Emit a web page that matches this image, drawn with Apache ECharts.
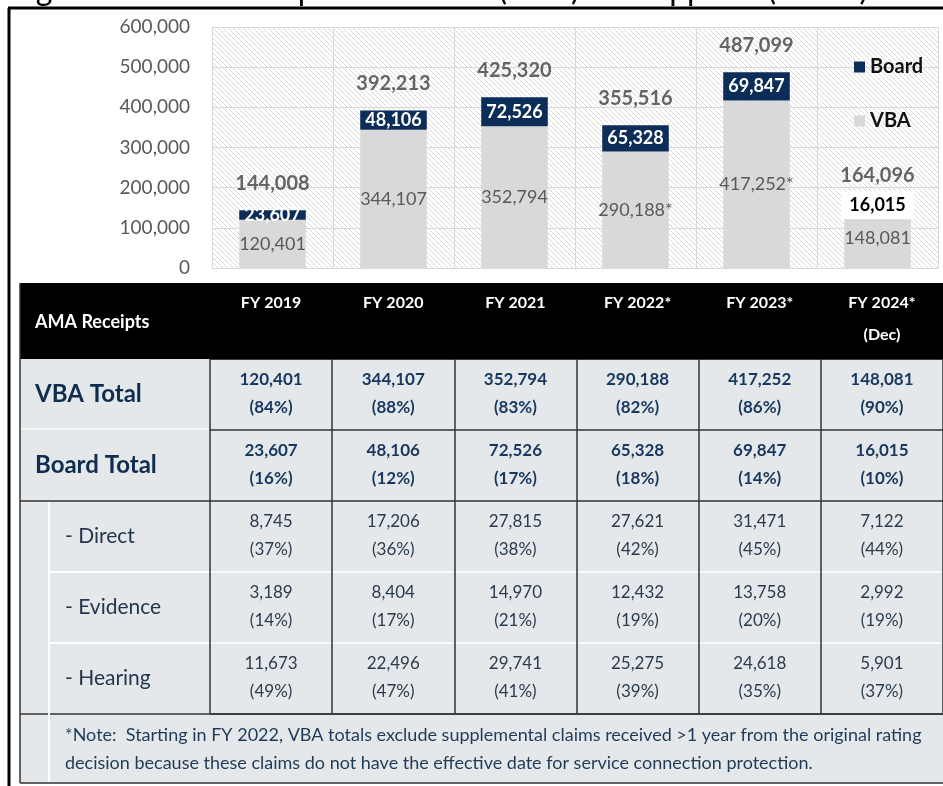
<!DOCTYPE html>
<html>
<head>
<meta charset="utf-8">
<script src="https://cdn.jsdelivr.net/npm/echarts@6.0.0/dist/echarts.min.js"></script>
<style>
html, body { margin: 0; padding: 0; background: #fff; }
#main { width: 943px; height: 786px; }
</style>
</head>
<body>
<div id="main"></div>
<script>
// data
var years = ['FY 2019', 'FY 2020', 'FY 2021', 'FY 2022*', 'FY 2023*', 'FY 2024*\n(Dec)'];
var vbaValues = [120401, 344107, 352794, 290188, 417252, 148081];
var vbaNote = ['', '', '', '*', '*', ''];
var boardValues = [23607, 48106, 72526, 65328, 69847, 16015];
var totals = [144008, 392213, 425320, 355516, 487099, 164096];
var vbaPct = [84, 88, 83, 82, 86, 90];
var boardPct = [16, 12, 17, 18, 14, 10];
var directValues = [8745, 17206, 27815, 27621, 31471, 7122];
var directPct = [37, 36, 38, 42, 45, 44];
var evidenceValues = [3189, 8404, 14970, 12432, 13758, 2992];
var evidencePct = [14, 17, 21, 19, 20, 19];
var hearingValues = [11673, 22496, 29741, 25275, 24618, 5901];
var hearingPct = [49, 47, 41, 39, 35, 37];
var rowNames = ['VBA Total', 'Board Total', '- Direct', '- Evidence', '- Hearing'];
var titleText = 'Figure 1: AMA Receipts for Claims (VBA) and Appeals (Board)';
var noteText = '*Note:  Starting in FY 2022, VBA totals exclude supplemental claims received >1 year from the original rating\n' +
    'decision because these claims do not have the effective date for service connection protection.';

var tableRows = [
    [vbaValues, vbaPct],
    [boardValues, boardPct],
    [directValues, directPct],
    [evidenceValues, evidencePct],
    [hearingValues, hearingPct]
];

var FONT = 'Lato';
var fmt = function (n) { return n.toLocaleString('en-US'); };

// hatched plot background
var hatch = document.createElement('canvas');
hatch.width = 5; hatch.height = 5;
var hc = hatch.getContext('2d');
hc.fillStyle = '#ffffff';
hc.fillRect(0, 0, 5, 5);
hc.strokeStyle = '#d8d8d8';
hc.lineWidth = 1;
hc.beginPath();
hc.moveTo(-1, -1); hc.lineTo(6, 6);
hc.moveTo(-1, 4); hc.lineTo(1, 6);
hc.moveTo(4, -1); hc.lineTo(6, 1);
hc.stroke();

var cells = [];
tableRows.forEach(function (r, ri) {
    r[0].forEach(function (v, ci) {
        cells.push([ci, ri]);
    });
});

var dom = document.getElementById('main');
var myChart = echarts.init(dom);
var option = {
    animation: false,
    backgroundColor: '#fff',
    textStyle: { fontFamily: FONT },
    legend: {
        data: ['Board', 'VBA'],
        orient: 'vertical',
        left: 849,
        top: 52,
        itemWidth: 11,
        itemHeight: 11,
        itemGap: 34,
        icon: 'rect',
        textStyle: { fontFamily: FONT, fontWeight: 'bold', fontSize: 20, color: '#111' }
    },
    grid: [
        { left: 212, right: 5, top: 27, height: 241, show: true, borderWidth: 0,
          backgroundColor: { image: hatch, repeat: 'repeat' } },
        { left: 210, right: 0, top: 359, height: 355 }
    ],
    xAxis: [
        {
            gridIndex: 0, type: 'category', data: years,
            axisLabel: { show: false }, axisTick: { show: false },
            axisLine: { lineStyle: { color: '#d9d9d9' } },
            splitLine: { show: true, lineStyle: { color: '#d9d9d9' } }
        },
        {
            gridIndex: 1, type: 'category', data: years, position: 'top',
            axisLine: { show: false }, axisTick: { show: false },
            axisLabel: {
                interval: 0, color: '#fff', fontFamily: FONT, fontWeight: 'bold', fontSize: 16,
                lineHeight: 32, verticalAlign: 'top', margin: 72
            },
            splitLine: { show: true, lineStyle: { color: '#333', width: 1.5 } }
        }
    ],
    yAxis: [
        {
            gridIndex: 0, type: 'value', min: 0, max: 600000, interval: 100000,
            axisLine: { show: false }, axisTick: { show: false },
            axisLabel: { color: '#595959', fontSize: 19, fontFamily: FONT, margin: 22, formatter: fmt },
            splitLine: { lineStyle: { color: '#d9d9d9' } }
        },
        {
            gridIndex: 1, type: 'category', data: rowNames, inverse: true,
            axisLine: { show: false }, axisTick: { show: false },
            axisLabel: {
                interval: 0, align: 'left', margin: 175,
                formatter: function (v, i) { return i < 2 ? '{total|' + v + '}' : '{sub|' + v + '}'; },
                rich: {
                    total: { fontFamily: FONT, fontWeight: 'bold', fontSize: 24, color: '#0f2d4e' },
                    sub: { fontFamily: FONT, fontSize: 21, color: '#22364c', padding: [0, 0, 0, 30] }
                }
            },
            splitLine: { show: true, lineStyle: { color: ['#000', '#333', '#333', '#fff', '#fff', '#333'], width: 1.5 } }
        }
    ],
    series: [
        {
            name: 'VBA', type: 'bar', stack: 'receipts', barWidth: '55%',
            xAxisIndex: 0, yAxisIndex: 0,
            itemStyle: { color: '#d9d9d9' },
            label: {
                show: true, position: 'inside', color: '#595959', fontSize: 18, fontFamily: FONT,
                formatter: function (p) { return fmt(p.value) + vbaNote[p.dataIndex]; }
            },
            data: vbaValues
        },
        {
            name: 'Board', type: 'bar', stack: 'receipts', barWidth: '55%',
            xAxisIndex: 0, yAxisIndex: 0,
            itemStyle: { color: '#0c2d57' },
            label: {
                show: true, position: 'inside', color: '#fff', fontSize: 18, fontWeight: 'bold', fontFamily: FONT,
                formatter: function (p) { return fmt(p.value); }
            },
            data: boardValues.map(function (v, i) {
                // last bar is too thin, its label sits on a white box
                if (i === boardValues.length - 1) {
                    return { value: v, label: { color: '#000', backgroundColor: '#fff', padding: [5, 8] } };
                }
                return v;
            })
        },
        {
            name: 'Total', type: 'scatter', xAxisIndex: 0, yAxisIndex: 0,
            symbolSize: 1, itemStyle: { color: 'rgba(0,0,0,0)' }, silent: true, z: 5,
            label: {
                show: true, position: 'inside', offset: [0, -27],
                color: '#404040', fontWeight: 'bold', fontSize: 20, fontFamily: FONT,
                formatter: function (p) { return fmt(p.value); }
            },
            data: totals
        },
        {
            name: 'Table', type: 'custom', xAxisIndex: 1, yAxisIndex: 1, silent: true,
            renderItem: function (params, api) {
                var c = cells[params.dataIndex];
                var pt = api.coord([api.value(0), api.value(1)]);
                var strong = c[1] < 2;
                var row = tableRows[c[1]];
                var st = {
                    fill: strong ? '#17375e' : '#2b3b4c',
                    fontFamily: FONT, fontSize: 17, fontWeight: strong ? 'bold' : 'normal',
                    align: 'center', verticalAlign: 'middle'
                };
                return {
                    type: 'group',
                    children: [
                        { type: 'text', x: pt[0], y: pt[1] - 15, style: Object.assign({ text: fmt(row[0][c[0]]) }, st) },
                        { type: 'text', x: pt[0], y: pt[1] + 13, style: Object.assign({ text: '(' + row[1][c[0]] + '%)' }, st) }
                    ]
                };
            },
            data: cells
        }
    ],
    graphic: [
        // cut-off caption above the frame
        { type: 'text', x: 10, y: 6, style: { text: titleText, fontFamily: FONT, fontSize: 32, fill: '#000', verticalAlign: 'bottom' } },
        // frame
        { type: 'line', shape: { x1: 8, y1: 8, x2: 943, y2: 8 }, style: { stroke: '#000', lineWidth: 3 } },
        { type: 'line', shape: { x1: 9, y1: 8, x2: 9, y2: 786 }, style: { stroke: '#000', lineWidth: 3 } },
        // table body and header band
        { type: 'rect', z: -2, shape: { x: 20, y: 359, width: 923, height: 424 }, style: { fill: '#e5e8eb' } },
        { type: 'rect', z: -1, shape: { x: 20, y: 283, width: 923, height: 76 }, style: { fill: '#000' } },
        { type: 'text', x: 35, y: 322, style: { text: 'AMA Receipts', fill: '#fff', fontFamily: FONT, fontWeight: 'bold', fontSize: 18, verticalAlign: 'middle' } },
        // label column rules
        { type: 'line', shape: { x1: 20, y1: 429, x2: 210, y2: 429 }, style: { stroke: '#f4f5f6', lineWidth: 2 } },
        { type: 'line', shape: { x1: 20, y1: 501, x2: 210, y2: 501 }, style: { stroke: '#333', lineWidth: 1.5 } },
        { type: 'line', shape: { x1: 49, y1: 572, x2: 210, y2: 572 }, style: { stroke: '#fff', lineWidth: 2 } },
        { type: 'line', shape: { x1: 49, y1: 643, x2: 210, y2: 643 }, style: { stroke: '#fff', lineWidth: 2 } },
        { type: 'line', shape: { x1: 20, y1: 714, x2: 943, y2: 714 }, style: { stroke: '#333', lineWidth: 1.5 } },
        { type: 'line', shape: { x1: 49, y1: 502, x2: 49, y2: 782 }, style: { stroke: '#fff', lineWidth: 2 } },
        { type: 'line', shape: { x1: 20, y1: 283, x2: 20, y2: 783 }, style: { stroke: '#333', lineWidth: 1.5 } },
        { type: 'line', shape: { x1: 20, y1: 783, x2: 943, y2: 783 }, style: { stroke: '#333', lineWidth: 1.5 } },
        // footnote
        { type: 'text', x: 65, y: 749, style: { text: noteText, fill: '#1f3a56', fontFamily: FONT, fontSize: 18, lineHeight: 28, verticalAlign: 'middle' } }
    ]
};
if (option && typeof option === 'object') {
    myChart.setOption(option, true);
}
</script>
</body>
</html>
